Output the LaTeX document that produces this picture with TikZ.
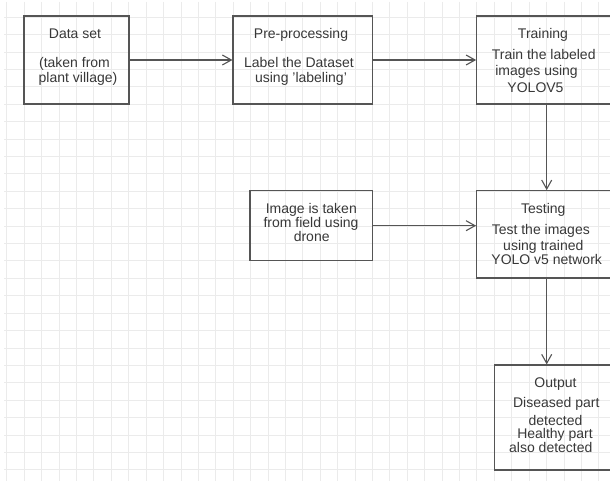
\documentclass[tikz,border=0pt]{standalone}
\usepackage{fontspec}
\setmainfont{Liberation Sans}
\usetikzlibrary{arrows.meta}
\definecolor{gridc}{HTML}{EBEBEB}
\definecolor{linec}{HTML}{555555}
\definecolor{textc}{HTML}{383838}
\tikzset{
  box/.style={draw=linec, line width=1.1pt, fill=none, inner sep=0pt},
  txt/.style={anchor=base, inner sep=0pt, text=textc, font=\fontsize{14}{16}\selectfont},
  conn/.style={draw=linec, line width=1.1pt, -{Straight Barb[length=9pt,width=10pt,line width=1.1pt]}},
}
\begin{document}
\begin{tikzpicture}[x=1pt,y=-1pt]
\useasboundingbox (0,0) rectangle (610,481);
\clip (0,0) rectangle (610,481);
\fill[white] (0,0) rectangle (610,481);
% grid
\foreach \k in {0,...,35} {
  \draw[gridc, line width=1pt] ({6.9+\k*17.41},2) -- ({6.9+\k*17.41},481);
}
\foreach \k in {1,...,27} {
  \draw[gridc, line width=1pt] (4,{-0.17+\k*17.41}) -- (610,{-0.17+\k*17.41});
}
% boxes
\node[box, minimum width=105pt, minimum height=88pt] (data) at (76.5,60) {};
\node[box, minimum width=139.5pt, minimum height=88pt] (pre) at (302.75,60) {};
\node[box, minimum width=140pt, minimum height=88pt] (train) at (546.7,60) {};
\node[box, minimum width=122.7pt, minimum height=70pt] (image) at (311.35,225.7) {};
\node[box, minimum width=140pt, minimum height=87.3pt] (test) at (546.7,234.35) {};
\node[box, minimum width=122.7pt, minimum height=105pt] (output) at (555.65,417.5) {};
% texts
\node[txt] (t1) at (75,39) {Data set};
\node[txt] (t2) at (74.5,67.3) {(taken from};
\node[txt] (t3) at (78,82.7) {plant village)};
\node[txt] (t4) at (301,39) {Pre-processing};
\node[txt] (t5) at (299,67.3) {Label the Dataset};
\node[txt] (t6) at (301,82.7) {using 'labeling'};
\node[txt] (t7) at (543,39) {Training};
\node[txt] (t8) at (543.7,59.4) {Train the labeled};
\node[txt] (t9) at (536.5,76) {images using};
\node[txt] (t10) at (535.5,92.4) {YOLOV5};
\node[txt] (t11) at (311.3,213.3) {Image is taken};
\node[txt] (t12) at (311,227.7) {from field using};
\node[txt] (t13) at (311.7,241.7) {drone};
\node[txt] (t14) at (543.3,213.3) {Testing};
\node[txt] (t15) at (540.8,234.3) {Test the images};
\node[txt] (t16) at (543.3,250) {using trained};
\node[txt] (t17) at (546.7,264) {YOLO v5 network};
\node[txt] (t18) at (555.5,387.7) {Output};
\node[txt] (t19) at (556.3,407.3) {Diseased part};
\node[txt] (t20) at (555.5,425) {detected};
\node[txt] (t21) at (555,438.3) {Healthy part};
\node[txt] (t22) at (550.8,452.7) {also detected};
% connectors
\draw[conn] (data.east) -- (pre.west);
\draw[conn] (pre.east) -- (train.west);
\draw[conn] (train.south) -- (test.north);
\draw[conn] (image.east) -- (image.east -| test.west);
\draw[conn] (test.south) -- (test.south |- output.north);
\end{tikzpicture}
\end{document}
